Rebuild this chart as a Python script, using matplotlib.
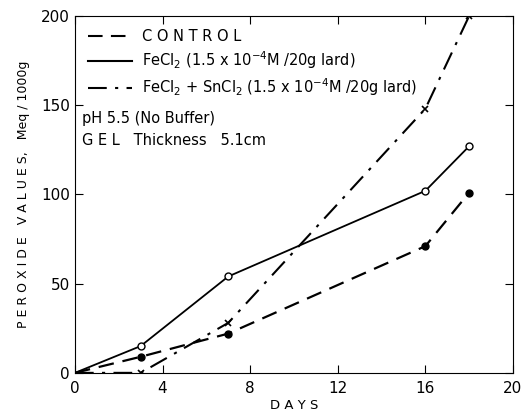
import numpy as np
import matplotlib.pyplot as plt
from matplotlib.lines import Line2D

plt.rcParams['font.family'] = ['DejaVu Sans']
plt.rcParams['mathtext.default'] = 'regular'

days = [0, 3, 7, 16, 18]
control = [0, 9, 22, 71, 101]
fecl2 = [0, 15, 54, 102, 127]
fecl2_sncl2 = [0, 0, 28, 148, 200]

labels = ['C O N T R O L',
          r'FeCl$_2$ (1.5 x 10$^{-4}$M /20g lard)',
          r'FeCl$_2$ + SnCl$_2$ (1.5 x 10$^{-4}$M /20g lard)']
styles = [(0, (7, 4)), '-', (0, (9, 4, 1.5, 4))]

fig = plt.figure(figsize=(5.24, 4.18), dpi=100)
ax = fig.add_axes([0.143, 0.108, 0.836, 0.854])

ax.plot(days, control, color='black', linestyle=styles[0], lw=1.6,
        marker='o', ms=5, mfc='black', markevery=[1, 2, 3, 4])
ax.plot(days, fecl2, color='black', linestyle=styles[1], lw=1.3,
        marker='o', ms=5, mfc='white', markevery=[1, 2, 3, 4])
ax.plot(days, fecl2_sncl2, color='black', linestyle=styles[2], lw=1.5,
        marker='x', ms=5, mew=1.2, markevery=[1, 2, 3, 4])

ax.set_xlim(0, 20)
ax.set_ylim(0, 200)
ax.set_xticks([0, 4, 8, 12, 16, 20])
ax.set_yticks([0, 50, 100, 150, 200])
ax.tick_params(direction='in', top=True, right=True, length=6, labelsize=11)
ax.tick_params(axis='x', pad=6)
ax.set_xlabel('D A Y S', fontsize=9.5, labelpad=2)
ax.set_ylabel('P E R O X I D E   V A L U E S,   Meq / 1000g', fontsize=9, labelpad=8)

handles = [Line2D([], [], color='black', linestyle=s, lw=1.5) for s in styles]
ax.legend(handles, labels, loc='upper left', frameon=False, fontsize=10.5,
          handlelength=3.0, borderaxespad=0.6, labelspacing=0.35,
          handletextpad=0.7, borderpad=0.3)
ax.text(0.015, 0.70, 'pH 5.5 (No Buffer)', transform=ax.transAxes, fontsize=10.5)
ax.text(0.015, 0.638, 'G E L   Thickness   5.1cm', transform=ax.transAxes, fontsize=10.5)

fig.savefig('out.png', dpi=100)
